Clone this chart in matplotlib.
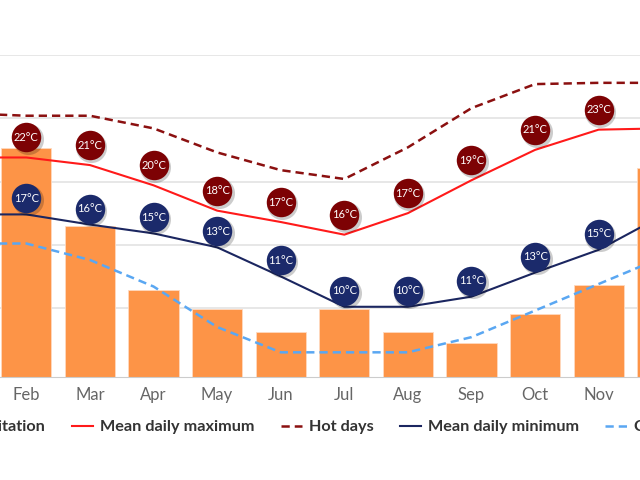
import matplotlib
matplotlib.use('Agg')
import matplotlib.pyplot as plt
from matplotlib.patches import Patch
from matplotlib.lines import Line2D
from matplotlib.transforms import offset_copy

plt.rcParams['font.family'] = ['Lato', 'DejaVu Sans']

months = ['Jan', 'Feb', 'Mar', 'Apr', 'May', 'Jun', 'Jul', 'Aug', 'Sep', 'Oct', 'Nov', 'Dec']
precip = [75, 71, 47, 27, 21, 14, 21, 14, 10.5, 19.5, 28.5, 65]
mean_max = [21.9, 21.9, 21.3, 19.7, 17.7, 16.8, 15.8, 17.5, 20.1, 22.5, 24.1, 24.2]
hot_days = [25.4, 25.2, 25.2, 24.2, 22.3, 20.9, 20.2, 22.7, 25.8, 27.7, 27.8, 27.8]
mean_min = [17.4, 17.4, 16.6, 15.9, 14.8, 12.5, 10.1, 10.1, 10.9, 12.8, 14.6, 17.3]
cold_nights = [15.1, 15.1, 13.8, 11.7, 8.5, 6.5, 6.5, 6.5, 7.7, 9.8, 11.9, 14.0]
max_labels = [22, 22, 21, 20, 18, 17, 16, 17, 19, 21, 23, 24]
min_labels = [17, 17, 16, 15, 13, 11, 10, 10, 11, 13, 15, 16]
grid_temps = [10, 15, 20, 25, 30]

fig = plt.figure(figsize=(6.4, 4.8), dpi=100)
# plot area is wider than the picture: Jan and Dec are cut off at the edges
ax = fig.add_axes([-69 / 640, 103 / 480, 763 / 640, 322 / 480])
axt = ax.twinx()

x = list(range(len(months)))
ax.set_xlim(-0.5, 11.5)
ax.set_ylim(0, 100)
axt.set_ylim(4.55, 30)

ax.hlines(grid_temps, -0.5, 11.5, transform=axt.transData, color='#e3e3e3', lw=1.2, zorder=0)
ax.bar(x, precip, width=0.79, color='#fd9447', edgecolor='#ffd9bf', linewidth=0.6, zorder=2)

axt.plot(x, mean_max, color='#ff1a1a', lw=1.5, zorder=3)
axt.plot(x, hot_days, color='#8b1010', lw=1.8, dashes=(3.3, 2.0), zorder=3)
axt.plot(x, mean_min, color='#1b2660', lw=1.5, zorder=3)
axt.plot(x, cold_nights, color='#5aa7f2', lw=1.8, dashes=(3.3, 2.0), zorder=3)

for vals, labs, col, dy in [(mean_max, max_labels, '#7d0204', 20),
                            (mean_min, min_labels, '#1b2a6b', 16)]:
    tr = offset_copy(axt.transData, fig=fig, x=0, y=dy, units='dots')
    sh = offset_copy(axt.transData, fig=fig, x=1.5, y=dy - 2, units='dots')
    axt.scatter(x, vals, s=500, color='#000000', alpha=0.2, transform=sh, zorder=4, linewidths=0)
    axt.scatter(x, vals, s=450, color=col, transform=tr, zorder=5, linewidths=0)
    for xi, v, lab in zip(x, vals, labs):
        axt.text(xi, v, f'{lab}°C', transform=tr, ha='center', va='center',
                 color='white', fontsize=8, zorder=6)

for a in (ax, axt):
    for s in ['top', 'left', 'right']:
        a.spines[s].set_visible(False)
    a.tick_params(axis='y', left=False, right=False, labelleft=False, labelright=False)
ax.spines['bottom'].set_color('#cccccc')
axt.spines['bottom'].set_visible(False)
ax.set_xticks(x)
ax.set_xticklabels(months, fontsize=12, color='#666666')
ax.tick_params(axis='x', length=0, pad=7)
axt.tick_params(axis='x', bottom=False, labelbottom=False)

handles = [Patch(color='#fd9447'),
           Line2D([], [], color='#ff1a1a', lw=1.5),
           Line2D([], [], color='#8b1010', lw=1.8, dashes=(3.3, 2.0)),
           Line2D([], [], color='#1b2660', lw=1.5),
           Line2D([], [], color='#5aa7f2', lw=1.8, dashes=(3.3, 2.0))]
labels = ['Precipitation', 'Mean daily maximum', 'Hot days', 'Mean daily minimum', 'Cold nights']
leg = fig.legend(handles, labels, loc='center', bbox_to_anchor=(0.5, 0.11), ncol=5, frameon=False,
                 prop={'weight': 'bold', 'size': 11.7}, handlelength=1.3, handletextpad=0.45,
                 columnspacing=1.6)
for t in leg.get_texts():
    t.set_color('#333333')

fig.savefig('out.png', dpi=100)
